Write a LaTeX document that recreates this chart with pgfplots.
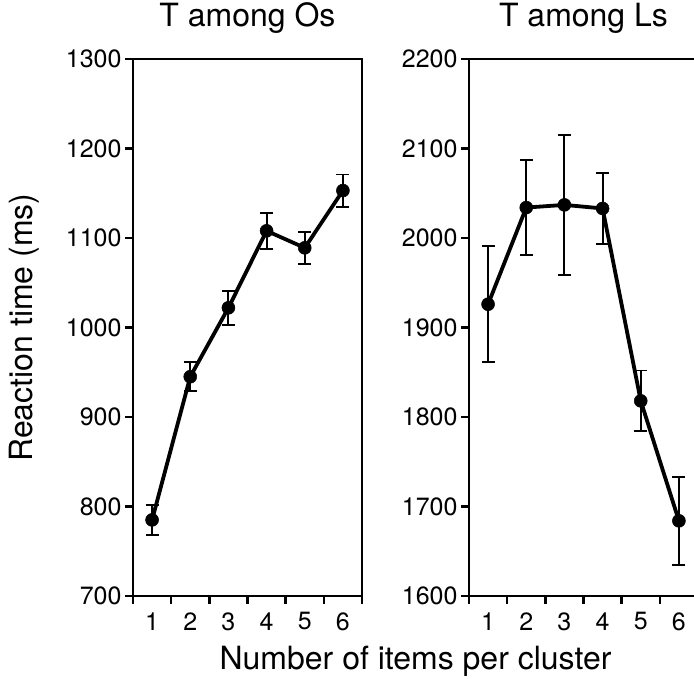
\documentclass[border=0pt]{standalone}
\usepackage{fontspec}
\setmainfont{TeX Gyre Heros}
\usepackage{pgfplots}
\usepackage{pgfplotstable}
\pgfplotsset{compat=1.18}
\pgfplotstableread{
x y e
1 785 17
2 945 16
3 1022 19
4 1108 20
5 1089 18
6 1153 18
}\leftdata
\pgfplotstableread{
x y e
1 1926 65
2 2034 53
3 2037 78
4 2033 40
5 1818 34
6 1684 49
}\rightdata
\pgfplotsset{
  panel/.style={
    scale only axis, width=229pt, height=537pt, anchor=south west,
    xmin=0.5, xmax=6.5,
    xtick={0.5,1.5,...,6.5}, xticklabels={,,,,,,},
    extra x ticks={1,2,3,4,5,6},
    extra x tick labels={1,2,3,4,5,6},
    extra x tick style={tick style={draw=none}, xticklabel style={yshift=-5pt}},
    xtick pos=bottom, ytick pos=left,
    tick align=outside,
    major tick length=8pt,
    axis line style={line width=2.4pt},
    tick style={line width=2.4pt, black},
    tick label style={font=\fontsize{25}{29}\selectfont},
    /pgf/number format/assume math mode=true,
    /pgf/number format/1000 sep={},
    title style={font=\fontsize{32}{38}\selectfont, at={(0.5,1)}, anchor=base, yshift=26pt},
  },
  dataline/.style={black, line width=3.8pt, mark=*, mark size=6.5pt,
    mark options={solid, fill=black, line width=0.5pt},
    error bars/.cd, y dir=both, y explicit,
    error bar style={line width=1.9pt, black},
    error mark options={rotate=90, mark size=6.5pt, line width=1.9pt, black}},
}
\begin{document}
\begin{tikzpicture}
\useasboundingbox (0pt,0pt) rectangle (694pt,679pt);
\begin{axis}[panel, at={(133pt,83pt)}, ymin=700, ymax=1300, ytick={700,800,...,1300},
  title={T among Os},
  ylabel={Reaction time (ms)},
  ylabel style={font=\fontsize{32}{38}\selectfont, at={(axis description cs:-0.4367,0.5)}, anchor=base}]
\addplot[dataline] table[x=x, y=y, y error=e] {\leftdata};
\end{axis}
\begin{axis}[panel, at={(469pt,83pt)}, ymin=1600, ymax=2200, ytick={1600,1700,...,2200},
  title={T among Ls}]
\addplot[dataline] table[x=x, y=y, y error=e] {\rightdata};
\end{axis}
\node[anchor=base, font=\fontsize{32}{38}\selectfont] at (415.5pt,9pt) {Number of items per cluster};
\end{tikzpicture}
\end{document}
